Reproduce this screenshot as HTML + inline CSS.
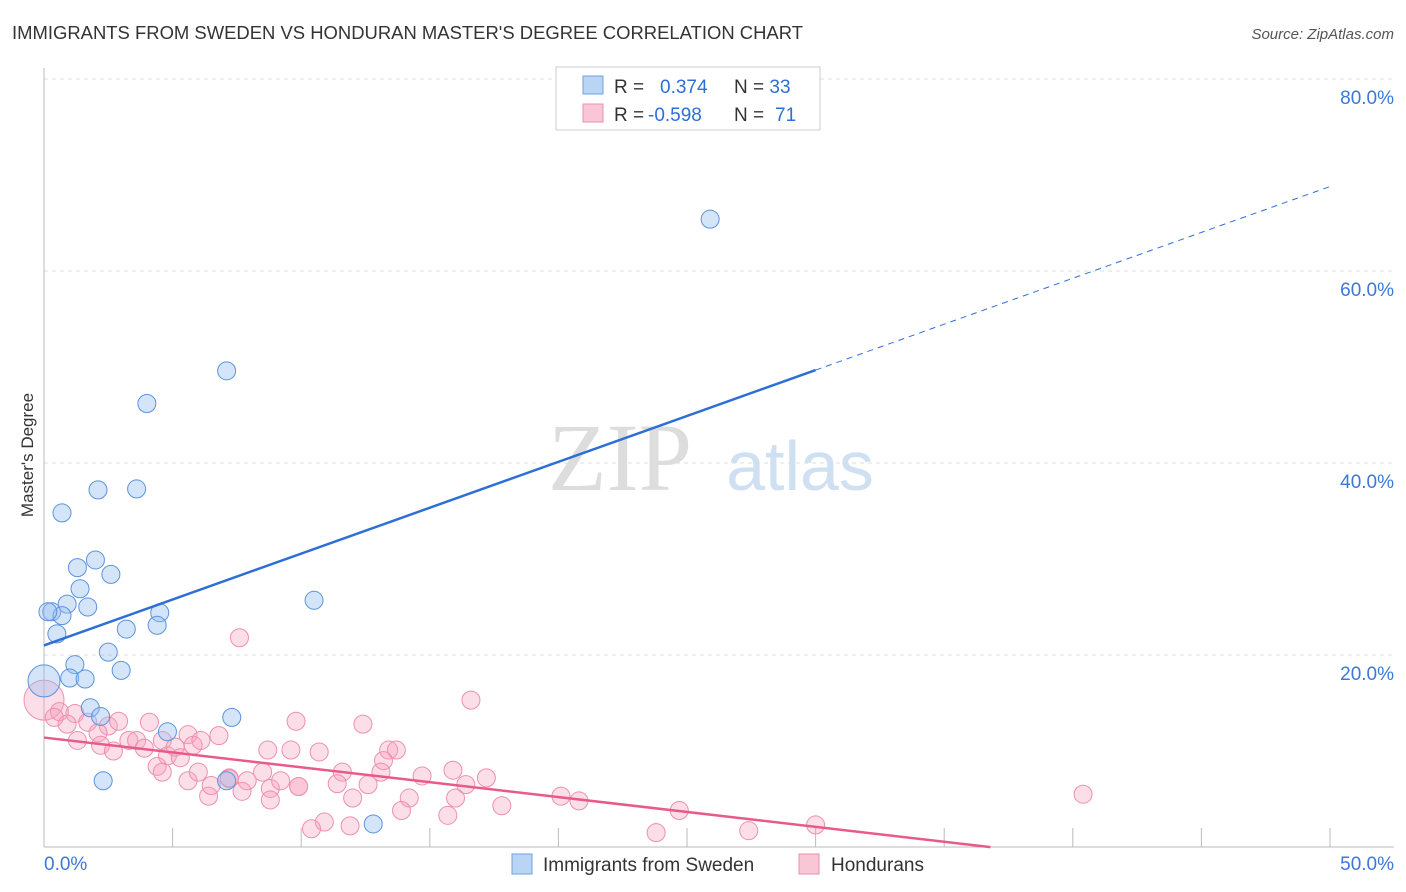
<!DOCTYPE html>
<html><head><meta charset="utf-8"><style>
body{margin:0;background:#fff;font-family:"Liberation Sans",sans-serif}
</style></head><body>
<svg id="c" width="1406" height="892" style="position:absolute;left:0;top:0">
<text x="12" y="39" font-size="18" fill="#333" textLength="791" lengthAdjust="spacingAndGlyphs">IMMIGRANTS FROM SWEDEN VS HONDURAN MASTER'S DEGREE CORRELATION CHART</text>
<text x="1394" y="39" font-size="15" fill="#555" font-style="italic" text-anchor="end">Source: ZipAtlas.com</text>
<text x="620" y="490" font-size="96" fill="#ddd" font-family="Liberation Serif" text-anchor="middle">ZIP</text>
<text x="800" y="490" font-size="70" fill="#cfe0f3" text-anchor="middle">atlas</text>
<text transform="translate(33,455) rotate(-90)" font-size="17" fill="#333" text-anchor="middle">Master's Degree</text>
<g id="grid"></g><g id="pts"></g><g id="lines"></g>
<g>
<rect x="556" y="67" width="264" height="63" fill="#fff" stroke="#ccc"/>
<rect x="583" y="76" width="20" height="18" fill="#b9d4f5" stroke="#6fa0e0"/>
<rect x="583" y="104" width="20" height="18" fill="#f9c6d5" stroke="#ee8fb0"/>
<text x="614" y="93" font-size="19" fill="#333">R = <tspan fill="#2d6fd6" x="660">0.374</tspan><tspan x="734" fill="#333">N = </tspan><tspan fill="#2d6fd6">33</tspan></text>
<text x="614" y="121" font-size="19" fill="#333">R = <tspan fill="#2d6fd6" x="648">-0.598</tspan><tspan x="734" fill="#333">N = </tspan><tspan fill="#2d6fd6" x="775">71</tspan></text>
</g>
<g>
<rect x="512" y="854" width="20" height="20" fill="#b9d4f5" stroke="#6fa0e0"/>
<text x="543" y="871" font-size="19" fill="#333">Immigrants from Sweden</text>
<rect x="799" y="854" width="20" height="20" fill="#f9c6d5" stroke="#ee8fb0"/>
<text x="831" y="871" font-size="19" fill="#333">Hondurans</text>
</g>
<text x="44" y="870" font-size="19" fill="#3b78d8">0.0%</text>
<text x="1394" y="870" font-size="19" fill="#3b78d8" text-anchor="end">50.0%</text>
</svg>
<script>
const yTicks=[20,40,60,80];
const blueX=[25.9,7.1,4.0,2.1,3.6,0.7,2.0,1.3,2.6,1.4,0.9,1.7,0.3,0.7,4.5,4.4,3.2,0.5,10.5,2.5,1.2,3.0,1.0,1.6,0,1.8,2.2,4.8,7.3,2.3,7.1,12.8,0.15];
const blueY=[65.4,49.6,46.2,37.2,37.3,34.8,29.9,29.1,28.4,26.9,25.3,25.0,24.5,24.1,24.4,23.1,22.7,22.2,25.7,20.3,19.0,18.4,17.6,17.5,17.3,14.5,13.6,12.0,13.5,6.9,6.9,2.4,24.5];
const pinkX=[7.6,16.6,0,0.6,0.4,1.2,0.9,1.7,2.5,2.1,2.9,4.1,1.3,2.2,2.7,3.3,3.6,3.9,4.6,4.8,5.1,5.6,5.8,6.1,6.8,4.4,4.6,5.3,5.6,6.0,6.4,6.5,7.2,7.2,7.9,8.5,7.7,8.8,9.2,8.7,9.6,9.8,10.7,12.4,13.4,13.7,13.2,13.1,11.6,11.4,9.9,8.8,9.9,12.0,12.6,14.2,13.9,14.7,15.9,15.7,16.0,17.2,16.4,17.8,10.9,10.4,11.9,20.1,20.8,23.8,24.7,27.4,30.0,40.4];
const pinkY=[21.8,15.3,15.3,14.1,13.5,13.9,12.8,13.0,12.6,11.9,13.1,13.0,11.1,10.6,10.0,11.1,11.1,10.3,11.1,9.5,10.4,11.7,10.6,11.1,11.6,8.4,7.8,9.3,6.9,7.8,5.3,6.4,7.2,7.1,6.9,7.8,5.8,6.1,6.9,10.1,10.1,13.1,9.9,12.8,10.1,10.1,9.0,7.8,7.8,6.6,6.3,4.9,6.3,5.1,6.5,5.1,3.8,7.4,8.0,3.3,5.1,7.2,6.5,4.3,2.6,1.9,2.2,5.3,4.8,1.5,3.8,1.7,2.3,5.5];
const bigBlue=24, bigPink=2;
const sx=v=>44+v*25.72, sy=v=>847-v*9.6;
const NS='http://www.w3.org/2000/svg';
function mk(tag,attrs,parent){const e=document.createElementNS(NS,tag);for(const k in attrs)e.setAttribute(k,attrs[k]);parent.appendChild(e);return e;}
const g=document.getElementById('grid');
yTicks.forEach(t=>{
 const l=mk('line',{x1:44,x2:1394,y1:sy(t),y2:sy(t),stroke:'#ddd','stroke-dasharray':'4,4'},g);
 
 
 const tx=mk('text',{x:1394,y:sy(t)+25,'font-size':19,fill:'#3b78d8','text-anchor':'end'},g);
 tx.textContent=t.toFixed(1)+'%';
 
 
});
mk('line',{x1:44,x2:44,y1:68,y2:847,stroke:'#bbb'},g);
mk('line',{x1:44,x2:1394,y1:847,y2:847,stroke:'#bbb'},g);
for(let i=1;i<=10;i++){mk('line',{x1:sx(i*5),x2:sx(i*5),y1:828,y2:847,stroke:'#bbb'},g);}
const p=document.getElementById('pts');
pinkX.forEach((x,i)=>{
 const c=mk('circle',{cx:sx(x),cy:sy(pinkY[i]),r:i==bigPink?20:9,fill:'rgba(245,160,190,0.35)',stroke:'#ee8fb0','stroke-width':1},p);
 
 
});
blueX.forEach((x,i)=>{
 const c=mk('circle',{cx:sx(x),cy:sy(blueY[i]),r:i==bigBlue?16:9,fill:'rgba(150,190,240,0.4)',stroke:'#5b93de','stroke-width':1},p);
 
 
});
const L=document.getElementById('lines');
const b0=21.0,b1=0.956;
const bl=mk('line',{x1:sx(0),y1:sy(b0),x2:sx(30),y2:sy(b0+b1*30),stroke:'#2d6fd6','stroke-width':2.5},L);


const bd=mk('line',{x1:sx(30),y1:sy(b0+b1*30),x2:sx(50),y2:sy(b0+b1*50),stroke:'#2d6fd6','stroke-width':1,'stroke-dasharray':'6,5'},L);


const p0=11.4,p1=-0.31;
const pl=mk('line',{x1:sx(0),y1:sy(p0),x2:sx(36.8),y2:sy(p0+p1*36.8),stroke:'#e85a8a','stroke-width':2.5},L);


</script>
</body></html>
